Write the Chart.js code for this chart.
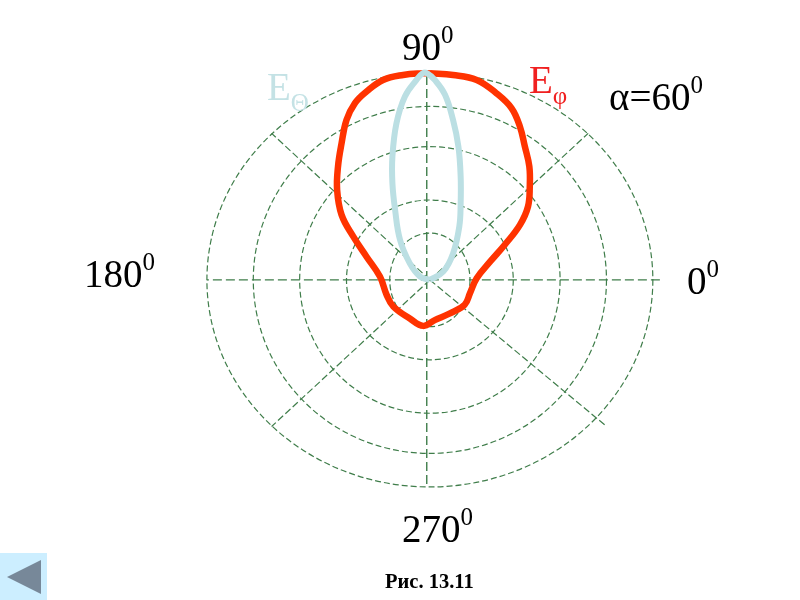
<!DOCTYPE html>
<html>
<head>
<meta charset="utf-8">
<title>Рис. 13.11</title>
<script src="https://cdn.jsdelivr.net/npm/chart.js@4/dist/chart.umd.js"></script>
<style>
  html, body { margin: 0; padding: 0; background: #fff; }
  #wrap { position: relative; width: 800px; height: 600px; overflow: hidden; }
  #chart { position: absolute; left: 0; top: 0; }
  .lbl { position: absolute; font-family: "Liberation Serif", serif; font-size: 39px; line-height: 1; white-space: nowrap; color: #000; }
  .lbl sup { font-size: 25px; position: relative; top: -3px; vertical-align: super; line-height: 0; }
  .lbl sub { font-size: 25px; vertical-align: sub; line-height: 0; position: relative; top: 2px; }
  .caption { font-size: 20.5px; font-weight: bold; }
  #btn { position: absolute; left: 0; top: 553px; width: 47px; height: 47px; background: #cceeff; }
  #btn div { position: absolute; left: 7px; top: 7px; width: 34px; height: 34px; background: #778899; clip-path: polygon(0 50%, 100% 0, 100% 100%); }
</style>
</head>
<body>
<div id="wrap">
  <canvas id="chart" width="800" height="600"></canvas>
  <div class="lbl" style="left:402px;top:27px">90<sup>0</sup></div>
  <div class="lbl" style="left:267px;top:67px;color:#c4e2e5">E<sub>Θ</sub></div>
  <div class="lbl" style="left:529px;top:60px;color:#f02020">E<sub>φ</sub></div>
  <div class="lbl" style="left:609px;top:77px">α=60<sup>0</sup></div>
  <div class="lbl" style="left:84px;top:254px">180<sup>0</sup></div>
  <div class="lbl" style="left:687px;top:261px">0<sup>0</sup></div>
  <div class="lbl" style="left:402px;top:509px">270<sup>0</sup></div>
  <div class="lbl caption" style="left:385px;top:571px">Рис. 13.11</div>
  <div id="btn"><div></div></div>
</div>
<script>
// Pattern, in grid units (outer ring = 5)
const ePhiX = [0, 0.52, 1.05, 1.49, 1.83, 2.02, 2.13, 2.23, 2.24, 2.20, 2.02, 1.68, 1.35, 1.05, 0.90, 0.78, 0.45, 0.11, -0.15, -0.45, -0.82, -0.97, -1.12, -1.42, -1.72, -1.98, -2.08, -2.06, -1.98, -1.87, -1.68, -1.42, -1.05, -0.60, -0.15, 0];
const ePhiY = [4.99, 4.95, 4.83, 4.51, 4.15, 3.70, 3.22, 2.74, 2.25, 1.77, 1.33, 0.85, 0.44, 0.04, -0.32, -0.60, -0.81, -0.97, -1.11, -0.93, -0.64, -0.36, 0.08, 0.56, 1.05, 1.57, 2.17, 2.74, 3.30, 3.86, 4.27, 4.55, 4.83, 4.95, 4.99, 4.99];

const eThetaX = [0, 0.30, 0.52, 0.66, 0.69, 0.69, 0.64, 0.52, 0.34, 0.11, -0.06, -0.16, -0.30, -0.56, -0.75, -0.84, -0.84, -0.78, -0.67, -0.45, -0.22, 0];
const eThetaY = [0, 0.20, 0.64, 1.29, 1.85, 2.50, 3.22, 3.86, 4.47, 4.83, 4.99, 4.99, 4.83, 4.43, 3.78, 2.98, 2.33, 1.69, 0.97, 0.40, 0.08, 0];

// Grid
const ringRadiusX = [0.9, 1.87, 2.92, 3.96, 5];
const ringRadiusY = [1.13, 1.93, 3.22, 4.19, 5];
const spokeEndX = [5.2, 3.55, -0.07, -3.55, -5.0, -3.55, -0.07, 3.92];
const spokeEndY = [0, 3.54, 5, 3.54, 0, -3.54, -5, -3.5];

const lineColor = '#ff3300';
const thetaColor = '#bbdfe3';
const gridColor = '#3f7d4a';

function toPoints(xs, ys) {
  return xs.map((x, i) => ({ x: x, y: ys[i] }));
}

// Dashed elliptical rings, placed through the chart's scales
const ringsPlugin = {
  id: 'rings',
  beforeDatasetsDraw(chart) {
    const { ctx, scales: { x, y } } = chart;
    const cx = x.getPixelForValue(0);
    const cy = y.getPixelForValue(0);
    ctx.save();
    ctx.strokeStyle = gridColor;
    ctx.lineWidth = 1.2;
    ctx.setLineDash([6, 3]);
    ringRadiusX.forEach((rx, i) => {
      ctx.beginPath();
      ctx.ellipse(cx, cy, x.getPixelForValue(rx) - cx, cy - y.getPixelForValue(ringRadiusY[i]), 0, 0, Math.PI * 2);
      ctx.stroke();
    });
    ctx.restore();
  }
};

const spokes = spokeEndX.map((sx, i) => ({
  data: [{ x: i === 2 || i === 6 ? sx : 0, y: 0 }, { x: sx, y: spokeEndY[i] }],
  borderColor: gridColor,
  borderWidth: i % 2 === 0 ? 1.4 : 1.2,
  borderDash: i % 2 === 0 ? [9, 4] : [7, 3],
  showLine: true,
  pointRadius: 0
}));

new Chart(document.getElementById('chart'), {
  type: 'scatter',
  data: {
    datasets: [
      {
        label: 'Eθ',
        data: toPoints(eThetaX, eThetaY),
        borderColor: thetaColor,
        borderWidth: 6,
        showLine: true,
        tension: 0.4,
        pointRadius: 0
      },
      {
        label: 'Eφ',
        data: toPoints(ePhiX, ePhiY),
        borderColor: lineColor,
        borderWidth: 6.5,
        showLine: true,
        tension: 0.4,
        pointRadius: 0
      },
      ...spokes
    ]
  },
  options: {
    responsive: false,
    animation: false,
    layout: { padding: 0 },
    plugins: { legend: { display: false }, tooltip: { enabled: false } },
    scales: {
      x: { type: 'linear', display: false, min: -9.64, max: 8.3 },
      y: { type: 'linear', display: false, min: -7.73, max: 6.76 }
    }
  },
  plugins: [ringsPlugin]
});
</script>
</body>
</html>
